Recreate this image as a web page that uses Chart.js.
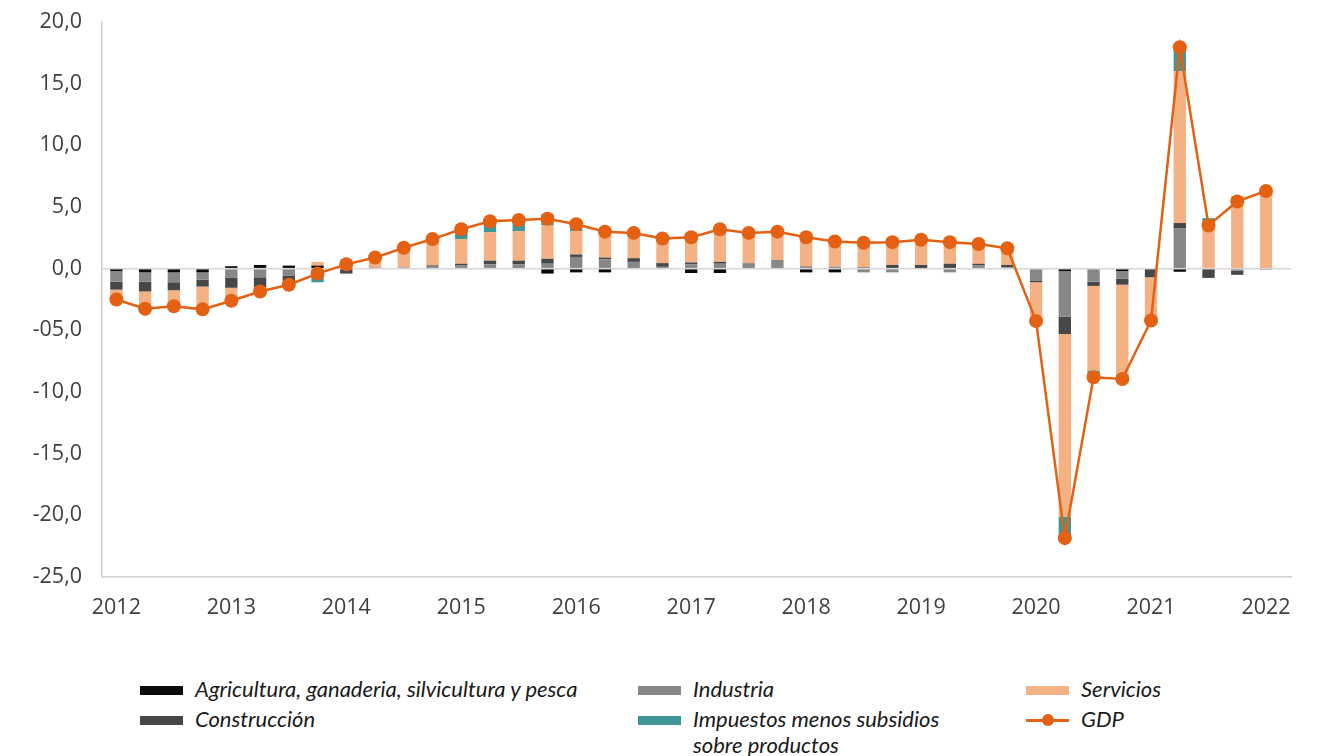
<!DOCTYPE html>
<html>
<head>
<meta charset="utf-8">
<script src="https://cdn.jsdelivr.net/npm/chart.js@4.4.0/dist/chart.umd.min.js"></script>
<style>
html,body{margin:0;padding:0;background:#fff;}
#wrap{position:relative;width:1326px;height:756px;overflow:hidden;}
#c{position:absolute;left:0;top:0;}
.lt{position:absolute;font-family:Lato,"Open Sans",sans-serif;font-style:italic;font-size:22px;color:#1a1a1a;line-height:26px;white-space:nowrap;}
.sw{position:absolute;width:43px;height:9px;}
</style>
</head>
<body>
<div id="wrap">
<canvas id="c" width="1326" height="650"></canvas>
<div id="legend"></div>
</div>
<script>
// ---- Data (percentage-point contributions to GDP growth, quarterly) ----
const years = ['2012','2013','2014','2015','2016','2017','2018','2019','2020','2021','2022'];
const quarterNames = ['T1','T2','T3','T4'];
const quarters = [];
for (let y = 2012; y <= 2022; y++) for (const q of quarterNames) if (quarters.length < 41) quarters.push(y + ' ' + q);

const agricultura = [-0.2,-0.3,-0.3,-0.3,0.2,0.3,0.25,0.25,-0.05,0,0,0,0,0,0,-0.4,-0.3,-0.3,0,0,-0.35,-0.35,0,0,-0.3,-0.3,0,0,0,0,0,0,0,-0.2,0,-0.2,0,-0.25,0,0,0];
const industria = [-0.85,-0.75,-0.8,-0.6,-0.75,-0.7,-0.55,-0.2,0.05,0.1,0.1,0.3,0.25,0.35,0.35,0.4,0.95,0.75,0.55,0.15,0.35,0.4,0.45,0.7,0.2,0.15,-0.3,-0.3,0.05,-0.3,0.25,0.1,-0.95,-3.7,-1.05,-0.6,0,3.25,0,-0.15,-0.1];
const construccion = [-0.65,-0.8,-0.65,-0.55,-0.8,-0.8,-0.45,-0.3,-0.35,0,0,0,0.15,0.3,0.3,0.4,0.2,0.15,0.3,0.3,0.15,0.15,0,0,0,0,0.1,0.3,0.25,0.4,0.15,0.2,-0.15,-1.4,-0.35,-0.5,-0.7,0.45,-0.75,-0.35,0];
const servicios = [-0.8,-1.4,-1.3,-1.85,-1.2,-0.65,-0.55,0.3,0.6,0.75,1.55,2.0,2.0,2.3,2.4,2.7,1.9,2.3,1.95,1.95,2.4,2.9,2.45,2.3,2.6,2.3,2.25,2.15,2.05,2.0,1.6,1.35,-3.2,-14.8,-6.85,-7.3,-3.5,12.3,3.6,5.9,6.35];
const impuestos = [0,0,0,0,0,0,0,-0.6,0.1,0,0.05,0.1,0.8,0.85,0.9,0.9,0.6,0,0,0,0,0,0,0,0,0,0,0,0,0,0,0,0,-1.8,-0.6,-0.35,0,1.8,0.5,0,0];
const gdp = [-2.5,-3.25,-3.05,-3.3,-2.6,-1.85,-1.3,-0.4,0.35,0.9,1.7,2.4,3.2,3.85,3.95,4.05,3.6,3.0,2.9,2.45,2.55,3.2,2.9,3.0,2.55,2.2,2.1,2.15,2.35,2.15,2.0,1.65,-4.25,-21.85,-8.8,-8.95,-4.2,17.95,3.5,5.45,6.3];
const yTicks = [20,15,10,5,0,-5,-10,-15,-20,-25];
const yTickLabels = ['20,0','15,0','10,0','5,0','0,0','-05,0','-10,0','-15,0','-20,0','-25,0'];

const seriesNames = {
  agri: 'Agricultura, ganaderia, silvicultura y pesca',
  ind: 'Industria',
  serv: 'Servicios',
  con: 'Construcción',
  imp: 'Impuestos menos subsidios sobre productos',
  gdp: 'GDP'
};
const colors = {agri:'#0c0a09', ind:'#878787', con:'#474747', serv:'#F4B183', imp:'#3F9696', gdp:'#E46113'};

const pts = arr => arr.map((v,i)=>({x:i, y:v}));
const barDs = (label, arr, color) => ({
  type:'bar', label, data: pts(arr), backgroundColor: color, borderWidth: 0,
  barPercentage: 0.43, categoryPercentage: 1, order: 1, stack: 'bars'
});

const chart = new Chart(document.getElementById('c'), {
  data: {
    datasets: [
      barDs(seriesNames.agri, agricultura, colors.agri),
      barDs(seriesNames.ind, industria, colors.ind),
      barDs(seriesNames.con, construccion, colors.con),
      barDs(seriesNames.serv, servicios, colors.serv),
      barDs(seriesNames.imp, impuestos, colors.imp),
      {type:'line', label: seriesNames.gdp, data: pts(gdp), borderColor: colors.gdp, backgroundColor: colors.gdp,
       borderWidth: 2.5, pointRadius: 7, pointBorderWidth: 0, pointBackgroundColor: colors.gdp,
       tension: 0, order: 0, stack: 'gdp'}
    ]
  },
  options: {
    responsive: false,
    animation: false,
    devicePixelRatio: 1,
    layout: {padding: {left: 0, right: 35, top: 0, bottom: 0}},
    plugins: {legend: {display: false}, tooltip: {enabled: false}},
    scales: {
      x: {
        type: 'linear', stacked: true, offset: false,
        min: -0.5, max: 40.87,
        grid: {display: false, offset: false},
        border: {display: true, color: '#d0d0d0', width: 1.5},
        afterBuildTicks: s => { s.ticks = years.map((y,i)=>({value: i*4})); },
        afterFit: s => { s.height = 73; },
        ticks: {
          autoSkip: false, maxRotation: 0, padding: 10,
          color: '#404040', font: {family: '"Open Sans"', size: 21.5},
          callback: v => years[Math.round(v/4)]
        }
      },
      y: {
        type: 'linear', stacked: true, min: -25, max: 20,
        afterBuildTicks: s => { s.ticks = yTicks.map(v=>({value:v})); },
        afterFit: s => { s.width = 102; s.paddingTop = 22; s.paddingBottom = 12; },
        grid: {drawTicks: false, lineWidth: 1.5, color: c => (c.tick && c.tick.value === 0) ? '#d6d6d6' : 'rgba(0,0,0,0)'},
        border: {display: true, color: '#d0d0d0', width: 1.5},
        ticks: {
          padding: 20, color: '#404040', font: {family: '"Open Sans"', size: 21.5},
          callback: v => yTickLabels[yTicks.indexOf(v)]
        }
      }
    }
  }
});

// ---- HTML legend (3 columns x 2 rows) ----
const legend = document.getElementById('legend');
const legendItems = [
  {key:'agri', col:0, row:0},
  {key:'ind', col:1, row:0},
  {key:'serv', col:2, row:0},
  {key:'con', col:0, row:1},
  {key:'imp', col:1, row:1, lines:['Impuestos menos subsidios','sobre productos']},
  {key:'gdp', col:2, row:1}
];
const colX = [140, 638, 1026];
const rowY = [690, 720];
legendItems.forEach(it => {
  const x = colX[it.col], y = rowY[it.row];
  if (it.key === 'gdp') {
    const ln = document.createElement('div');
    ln.style.cssText = `position:absolute;left:${x}px;top:${y-1.5}px;width:43px;height:3px;background:${colors.gdp};`;
    legend.appendChild(ln);
    const dot = document.createElement('div');
    dot.style.cssText = `position:absolute;left:${x+21.5-6}px;top:${y-6}px;width:12px;height:12px;border-radius:50%;background:${colors.gdp};`;
    legend.appendChild(dot);
  } else {
    const sw = document.createElement('div');
    sw.className = 'sw';
    sw.style.left = x + 'px'; sw.style.top = (y-4.5) + 'px'; sw.style.background = colors[it.key];
    legend.appendChild(sw);
  }
  const t = document.createElement('div');
  t.className = 'lt';
  t.style.left = (x + 55) + 'px';
  t.style.top = (y - 14) + 'px';
  if (it.lines) { t.innerHTML = it.lines.join('<br>'); } else { t.textContent = seriesNames[it.key]; }
  legend.appendChild(t);
});
</script>
</body>
</html>
